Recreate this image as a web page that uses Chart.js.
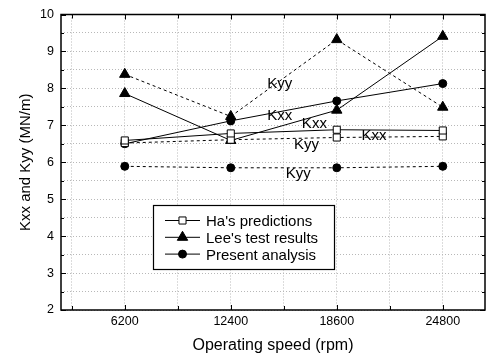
<!DOCTYPE html>
<html>
<head>
<meta charset="utf-8">
<title>Kxx and Kyy vs operating speed</title>
<script src="https://cdn.jsdelivr.net/npm/chart.js@4.4.0/dist/chart.umd.min.js"></script>
<style>
  html, body { margin: 0; padding: 0; background: #fff; }
</style>
</head>
<body>
<canvas id="stiffChart" width="492" height="356"></canvas>
<script>
// Operating speeds (rpm)
const speeds = [6200, 12400, 18600, 24800];

// Ha's predictions
const haKxx = [6.59, 6.78, 6.88, 6.86];
const haKyy = [6.52, 6.61, 6.67, 6.70];
// Lee's test results
const leeKxx = [7.86, 6.59, 7.41, 9.41];
const leeKyy = [8.38, 7.24, 9.32, 7.49];
// Present analysis
const presentKxx = [6.50, 7.12, 7.66, 8.13];
const presentKyy = [5.89, 5.85, 5.85, 5.89];

// Tick values / labels
const xGridTicks = [3100, 6200, 9300, 12400, 15500, 18600, 21700, 24800];
const xLabels = [6200, 12400, 18600, 24800];
const yLabels = [2, 3, 4, 5, 6, 7, 8, 9, 10];

// Curve names written on the plot (data coordinates)
const noteTexts = ["Kyy", "Kxx", "Kxx", "Kxx", "Kyy", "Kyy"];
const noteX = [15270, 15270, 17290, 20780, 16830, 16340];
const noteY = [8.14, 7.27, 7.05, 6.73, 6.49, 5.70];

const legendNames = ["Ha's predictions", "Lee's test results", "Present analysis"];

const FONT = "'Liberation Sans', Arial, sans-serif";

function pts(values) {
    return speeds.map((s, i) => ({ x: s, y: values[i] }));
}

function series(label, values, style, dashed) {
    return {
        label: label,
        data: pts(values),
        borderColor: '#000',
        borderWidth: 1,
        borderDash: dashed ? [3, 3] : [],
        pointStyle: style,
        pointRadius: style === 'triangle' ? 6 : (style === 'rect' ? 5 : 4),
        pointBorderWidth: 1,
        pointBorderColor: '#000',
        pointBackgroundColor: style === 'rect' ? '#fff' : '#000',
        tension: 0,
        fill: false
    };
}

// Inward tick marks, frame, curve names and the boxed legend
const decorPlugin = {
    id: 'decor',
    afterDraw(chart) {
        const ctx = chart.ctx;
        const a = chart.chartArea;
        const xs = chart.scales.x;
        const ys = chart.scales.y;

        ctx.save();
        ctx.strokeStyle = '#000';
        ctx.lineWidth = 1;

        // x ticks (bottom and top)
        xGridTicks.forEach(v => {
            const px = Math.round(xs.getPixelForValue(v)) + 0.5;
            const len = xLabels.includes(v) ? 5 : 4;
            ctx.beginPath();
            ctx.moveTo(px, a.bottom); ctx.lineTo(px, a.bottom - len);
            ctx.moveTo(px, a.top); ctx.lineTo(px, a.top + len);
            ctx.stroke();
        });
        // y ticks (left and right)
        ys.ticks.forEach(t => {
            const py = Math.round(ys.getPixelForValue(t.value)) + 0.5;
            const len = yLabels.includes(t.value) ? 5 : 3;
            ctx.beginPath();
            ctx.moveTo(a.left, py); ctx.lineTo(a.left + len, py);
            ctx.moveTo(a.right, py); ctx.lineTo(a.right - len, py);
            ctx.stroke();
        });

        // frame
        ctx.lineWidth = 1.5;
        ctx.strokeRect(a.left, a.top, a.right - a.left, a.bottom - a.top);

        // curve names
        ctx.fillStyle = '#000';
        ctx.font = '15px ' + FONT;
        ctx.textAlign = 'center';
        ctx.textBaseline = 'alphabetic';
        noteTexts.forEach((txt, i) => {
            ctx.fillText(txt, xs.getPixelForValue(noteX[i]), ys.getPixelForValue(noteY[i]) + 5);
        });

        // legend box
        const bx = 153.5, by = 205.5, bw = 181, bh = 64;
        ctx.fillStyle = '#fff';
        ctx.fillRect(bx, by, bw, bh);
        ctx.lineWidth = 1.2;
        ctx.strokeStyle = '#000';
        ctx.strokeRect(bx, by, bw, bh);

        ctx.textAlign = 'left';
        legendNames.forEach((name, i) => {
            const ds = chart.data.datasets[i * 2];
            const rowY = 220.5 + i * 16.8;
            ctx.strokeStyle = '#000';
            ctx.lineWidth = 1;
            ctx.setLineDash([]);
            ctx.beginPath();
            ctx.moveTo(165, rowY); ctx.lineTo(200, rowY);
            ctx.stroke();
            ctx.fillStyle = ds.pointBackgroundColor;
            Chart.helpers.drawPoint(ctx, {
                pointStyle: ds.pointStyle,
                radius: ds.pointRadius,
                rotation: 0,
                borderWidth: 1
            }, 182.5, rowY);
            ctx.fillStyle = '#000';
            ctx.fillText(name, 206, rowY + 5.5);
        });
        ctx.restore();
    }
};

document.addEventListener("DOMContentLoaded", function () {
    const ctx = document.getElementById("stiffChart").getContext("2d");

    new Chart(ctx, {
        type: 'line',
        data: {
            datasets: [
                series("Ha's predictions Kxx", haKxx, 'rect', false),
                series("Ha's predictions Kyy", haKyy, 'rect', true),
                series("Lee's test results Kxx", leeKxx, 'triangle', false),
                series("Lee's test results Kyy", leeKyy, 'triangle', true),
                series("Present analysis Kxx", presentKxx, 'circle', false),
                series("Present analysis Kyy", presentKyy, 'circle', true)
            ]
        },
        options: {
            responsive: false,
            animation: false,
            layout: { padding: { top: 14, right: 1, left: 0, bottom: 0 } },
            plugins: {
                legend: { display: false },
                tooltip: { enabled: false }
            },
            scales: {
                x: {
                    type: 'linear',
                    min: 2470,
                    max: 27270,
                    afterFit(scale) { scale.height = 46; },
                    afterBuildTicks(scale) {
                        scale.ticks = xGridTicks.map(v => ({ value: v }));
                    },
                    grid: { color: '#b8b8b8', lineWidth: 1, drawTicks: false },
                    border: { display: false, dash: [1, 2] },
                    ticks: {
                        color: '#000',
                        padding: 4,
                        maxRotation: 0,
                        autoSkip: false,
                        font: { family: FONT, size: 12.5 },
                        callback: v => xLabels.includes(v) ? String(v) : ''
                    },
                    title: {
                        display: true,
                        text: 'Operating speed (rpm)',
                        color: '#000',
                        font: { family: FONT, size: 16 },
                        padding: { top: 0, bottom: 1 }
                    }
                },
                y: {
                    min: 2,
                    max: 10,
                    afterFit(scale) { scale.width = 61; },
                    grid: { color: '#b8b8b8', lineWidth: 1, drawTicks: false },
                    border: { display: false, dash: [1, 2] },
                    ticks: {
                        stepSize: 0.5,
                        color: '#000',
                        padding: 7,
                        autoSkip: false,
                        font: { family: FONT, size: 12.5 },
                        callback: v => yLabels.includes(v) ? String(v) : ''
                    },
                    title: {
                        display: true,
                        text: 'Kxx and Kyy (MN/m)',
                        color: '#000',
                        font: { family: FONT, size: 15 },
                        padding: { top: 17, bottom: 0 }
                    }
                }
            }
        },
        plugins: [decorPlugin]
    });
});
</script>
</body>
</html>
